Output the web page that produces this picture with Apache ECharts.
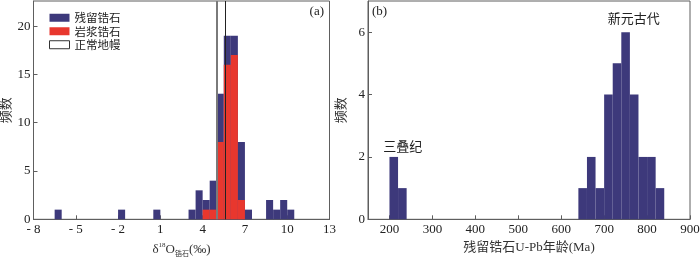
<!DOCTYPE html>
<html><head><meta charset="utf-8">
<script src="https://cdn.jsdelivr.net/npm/echarts@6.0.0/dist/echarts.min.js"></script>
<style>html,body{margin:0;padding:0;background:#fff}#c{width:700px;height:257px}</style>
</head><body><div id="c"></div>
<script>
// ---- Panel (a): δ18O histogram (bin width 0.5 ‰) ----
const o18BinWidth = 0.5;
const inheritedBins = [-6.5, -2, 0.5, 3, 3.5, 4, 4.5, 5, 5.5, 6, 6.5, 7, 8.5, 9, 9.5, 10];
const inheritedCounts = [1, 1, 1, 1, 3, 2, 4, 13, 19, 19, 8, 1, 2, 1, 2, 1];
const magmaticBins = [4, 4.5, 5, 5.5, 6, 6.5];
const magmaticCounts = [1, 1, 8, 16, 17, 2];
const mantleLines = [5.0, 5.6];
const o18Ticks = [-8, -5, -2, 1, 4, 7, 10, 13];
const countTicksA = [0, 5, 10, 15, 20];

// ---- Panel (b): U-Pb age histogram (bin width 20 Ma) ----
const ageBinWidth = 20;
const ageBins = [200, 220, 640, 660, 680, 700, 720, 740, 760, 780, 800, 820];
const ageCounts = [2, 1, 1, 2, 1, 4, 5, 6, 4, 2, 2, 1];
const ageTicks = [200, 300, 400, 500, 600, 700, 800, 900];
const countTicksB = [0, 2, 4, 6];
const ageNotes = [[231, 2.15, '三叠纪'], [769, 6.25, '新元古代']];

const BLUE = '#3d397b', RED = '#e8372e', AX = '#5e5e5e';
const NUM_FONT = "'Liberation Serif', 'Times New Roman', serif";
const CJK_FONT = "'Liberation Serif', 'Noto Sans CJK SC', sans-serif";

function barSeries(name, bins, counts, width, color, xi) {
  return {
    name, type: 'custom', xAxisIndex: xi, yAxisIndex: xi,
    itemStyle: { color },
    data: bins.map((b, i) => [b, counts[i]]),
    renderItem: (params, api) => {
      const x0 = api.value(0), c = api.value(1);
      const p0 = api.coord([x0, c]);
      const p1 = api.coord([x0 + width, 0]);
      return { type: 'rect', shape: { x: p0[0], y: p0[1], width: p1[0] - p0[0], height: p1[1] - p0[1] },
               style: { fill: color } };
    }
  };
}

function xAxisCommon(min, max, ticks, name, extra) {
  return Object.assign({
    type: 'value', min, max, name, nameLocation: 'middle', nameGap: 21,
    nameTextStyle: { fontFamily: CJK_FONT, fontSize: 13, color: '#333' },
    axisLine: { show: true, onZero: false, lineStyle: { color: AX, width: 1 } },
    axisTick: { show: true, inside: true, length: 4, customValues: ticks, lineStyle: { color: AX } },
    axisLabel: { customValues: ticks, margin: 4, fontFamily: NUM_FONT, fontSize: 13, color: '#222' },
    splitLine: { show: false }
  }, extra || {});
}
function yAxisCommon(max, ticks, gi) {
  return {
    type: 'value', gridIndex: gi, min: 0, max, name: '频数', nameLocation: 'middle', nameGap: 20, nameRotate: 90,
    nameTextStyle: { fontFamily: CJK_FONT, fontSize: 13, color: '#333' },
    axisLine: { show: true, onZero: false, lineStyle: { color: AX, width: 1 } },
    axisTick: { show: true, inside: true, length: 4, customValues: ticks, lineStyle: { color: AX } },
    axisLabel: { customValues: ticks, margin: 3, fontFamily: NUM_FONT, fontSize: 13, color: '#222' },
    splitLine: { show: false }
  };
}

const chart = echarts.init(document.getElementById('c'), null, { renderer: 'canvas' });
chart.setOption({
  animation: false,
  backgroundColor: '#fff',
  grid: [
    { left: 33.5, top: 1, width: 296, height: 218.3, show: true, borderColor: AX, borderWidth: 1,
      containLabel: false, outerBoundsMode: 'none' },
    { left: 368, top: 1, width: 322, height: 218.3, show: true, borderColor: AX, borderWidth: 1,
      containLabel: false, outerBoundsMode: 'none' }
  ],
  xAxis: [
    xAxisCommon(-8, 13, o18Ticks, 'δ{sup|18}O{sub|锆石}(‰)', {
      gridIndex: 0,
      nameTextStyle: { fontFamily: CJK_FONT, fontSize: 13, color: '#333',
        rich: { sup: { fontSize: 7, fontFamily: NUM_FONT, verticalAlign: 'top', lineHeight: 16, padding: [0, 0, 6, 0] },
                sub: { fontSize: 7, fontFamily: CJK_FONT, verticalAlign: 'bottom', lineHeight: 16, padding: [5, 0, 0, 0] } } },
      axisLabel: { customValues: o18Ticks, margin: 4, fontFamily: NUM_FONT, fontSize: 13, color: '#222',
        formatter: v => v < 0 ? '- ' + Math.abs(v) : String(v) }
    }),
    xAxisCommon(150, 900, ageTicks, '残留锆石U-Pb年龄(Ma)', { gridIndex: 1 })
  ],
  yAxis: [ yAxisCommon(22.6, countTicksA, 0), yAxisCommon(7, countTicksB, 1) ],
  legend: {
    left: 49, top: 12, padding: 0, orient: 'vertical', icon: 'rect', itemWidth: 20, itemHeight: 8, itemGap: 2,
    textStyle: { fontFamily: "'Noto Sans CJK SC', sans-serif", fontSize: 11.5, color: '#222', lineHeight: 9 },
    selectedMode: false,
    data: [
      { name: '残留锆石', itemStyle: { color: BLUE } },
      { name: '岩浆锆石', itemStyle: { color: RED } },
      { name: '正常地幔', itemStyle: { color: '#fff', borderColor: '#333', borderWidth: 1 } }
    ]
  },
  graphic: [
    { type: 'text', right: 700 - 324, top: 5, style: { text: '(a)', font: "13px " + NUM_FONT, fill: '#222' } },
    { type: 'text', left: 372, top: 5, style: { text: '(b)', font: "13px " + NUM_FONT, fill: '#222' } }
  ],
  series: [
    barSeries('残留锆石', inheritedBins, inheritedCounts, o18BinWidth, BLUE, 0),
    barSeries('岩浆锆石', magmaticBins, magmaticCounts, o18BinWidth, RED, 0),
    {
      name: '正常地幔', type: 'line', xAxisIndex: 0, yAxisIndex: 0, data: [], z: 5,
      itemStyle: { color: '#fff', borderColor: '#333' },
      markLine: {
        silent: true, symbol: 'none', label: { show: false },
        data: [
          { xAxis: mantleLines[0], lineStyle: { color: '#7a7a7a', width: 2, type: 'solid' } },
          { xAxis: mantleLines[1], lineStyle: { color: '#222', width: 1, type: 'solid' } }
        ]
      }
    },
    barSeries('残留锆石U-Pb', ageBins, ageCounts, ageBinWidth, BLUE, 1),
    {
      name: 'notes', type: 'custom', xAxisIndex: 1, yAxisIndex: 1, silent: true,
      data: ageNotes,
      renderItem: (params, api) => {
        const p = api.coord([api.value(0), api.value(1)]);
        return { type: 'text', x: p[0], y: p[1],
          style: { text: ageNotes[params.dataIndex][2], font: "13px 'Noto Sans CJK SC', sans-serif",
                   fill: '#222', align: 'center', verticalAlign: 'bottom' } };
      }
    }
  ]
});
</script></body></html>
